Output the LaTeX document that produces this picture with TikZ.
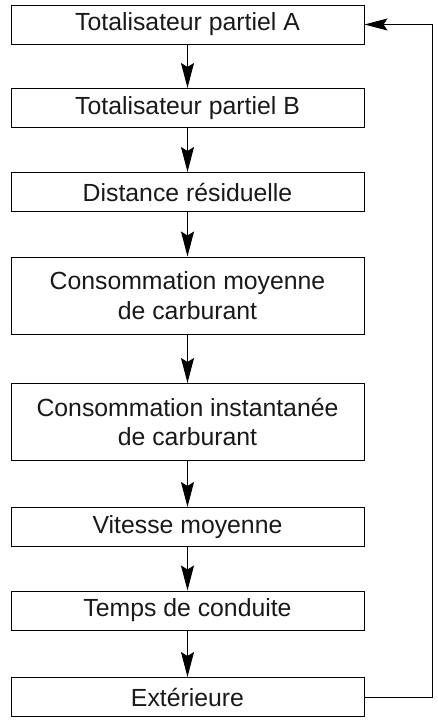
\documentclass[tikz,border=0pt]{standalone}
\usepackage{fontspec}
\setmainfont{Liberation Sans}
\usetikzlibrary{arrows.meta}
\begin{document}
\begin{tikzpicture}[x=1pt,y=-1pt,
  box/.style={draw, line width=1pt, minimum width=353pt, inner sep=0pt, align=center,
    font=\fontsize{24.8}{29.5}\selectfont, text=black!90},
  one/.style={box, minimum height=39pt},
  two/.style={box, minimum height=77pt},
  conn/.style={line width=1pt, -{Stealth[length=25pt, width=13pt, inset=4pt]}}]
\useasboundingbox (0,0) rectangle (437,721);
\node[one] (a) at (187.5,24.5) {Totalisateur partiel A};
\node[one] (b) at (187.5,108) {Totalisateur partiel B};
\node[one] (c) at (187.5,192) {Distance résiduelle};
\node[two] (d) at (187.5,295.5) {Consommation moyenne\\de carburant};
\node[two] (e) at (187.5,422) {Consommation instantanée\\de carburant};
\node[one] (f) at (187.5,527) {Vitesse moyenne};
\node[one] (g) at (187.5,610.5) {Temps de conduite};
\node[one] (h) at (187.5,697) {Extérieure};
\coordinate (r1) at (432,697);
\coordinate (r2) at (432,24.5);
\draw[conn] (a) -- (b);
\draw[conn] (b) -- (c);
\draw[conn] (c) -- (d);
\draw[conn] (d) -- (e);
\draw[conn] (e) -- (f);
\draw[conn] (f) -- (g);
\draw[conn] (g) -- (h);
\draw[line width=1pt, -{Stealth[length=23pt, width=12pt, inset=4pt]}] (h.east) -- (r1) -- (r2) -- (a.east);
\end{tikzpicture}
\end{document}
